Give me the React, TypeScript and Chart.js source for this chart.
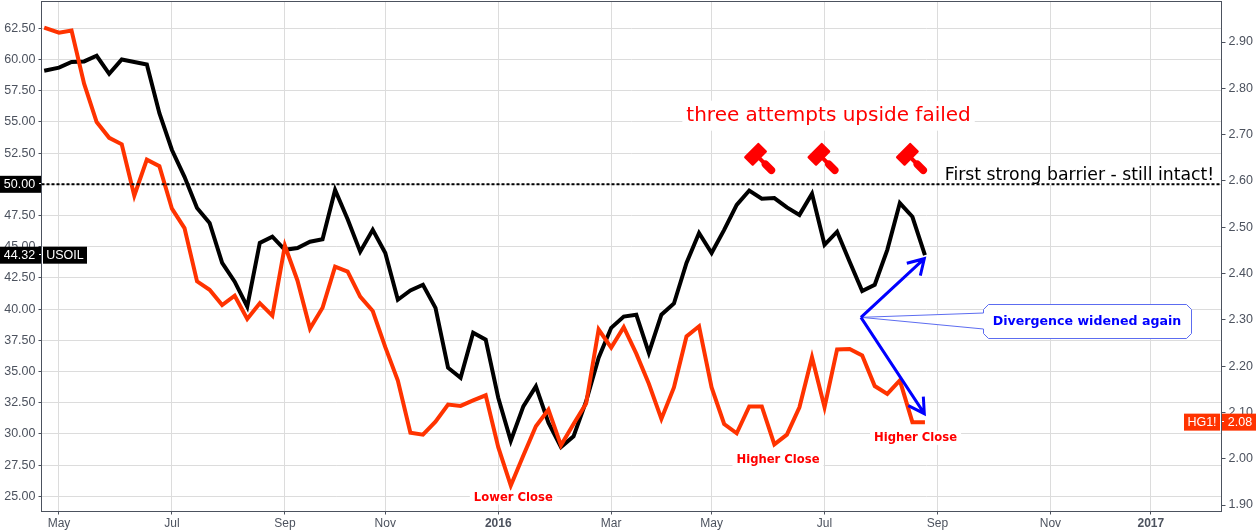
import React, { useEffect, useRef } from "react";
import { Chart, registerables } from "chart.js";

Chart.register(...registerables);

const firstWeek = -1;
const firstPointWeek = -1.18;
const usoilValues = [
  59.1, 59.35, 59.8, 59.85, 60.3, 58.85, 60.0, 59.8, 59.6, 55.7, 52.75, 50.6, 48.1, 46.9, 43.7, 42.2, 40.2,
  45.3, 45.8, 44.75, 44.9, 45.4, 45.6, 49.55, 47.2, 44.6, 46.35, 44.5, 40.75, 41.5, 41.95, 40.1, 35.3, 34.5,
  38.1, 37.55, 32.9, 29.45, 32.2, 33.8, 30.9, 28.95, 29.8, 32.6, 36.1, 38.5, 39.4, 39.55, 36.5, 39.55, 40.45,
  43.7, 46.1, 44.5, 46.35, 48.35, 49.5, 48.85, 48.9, 48.15, 47.55, 49.25, 45.15, 46.2, 43.8, 41.45, 41.95,
  44.75, 48.5, 47.4, 44.32,
];
const copperValues = [
  2.931, 2.92, 2.925, 2.81, 2.727, 2.693, 2.679, 2.568, 2.646, 2.632, 2.54, 2.498, 2.383, 2.365, 2.332, 2.352,
  2.302, 2.336, 2.309, 2.46, 2.385, 2.281, 2.326, 2.415, 2.404, 2.35, 2.319, 2.241, 2.169, 2.056, 2.052, 2.08,
  2.117, 2.114, 2.126, 2.137, 2.025, 1.942, 2.007, 2.07, 2.106, 2.029, 2.075, 2.119, 2.279, 2.24, 2.284, 2.227,
  2.162, 2.086, 2.154, 2.264, 2.286, 2.154, 2.075, 2.055, 2.113, 2.113, 2.031, 2.052, 2.111, 2.219, 2.111, 2.236,
  2.237, 2.223, 2.157, 2.14, 2.169, 2.079, 2.079,
];
const monthWeeks = [0, 9, 18, 26, 35, 44, 52, 61, 70, 79, 87];
const monthLabels = ["May", "Jul", "Sep", "Nov", "2016", "Mar", "May", "Jul", "Sep", "Nov", "2017"];
const leftTicks = [25, 27.5, 30, 32.5, 35, 37.5, 40, 42.5, 45, 47.5, 50, 52.5, 55, 57.5, 60, 62.5];
const rightTicks = [1.9, 2.0, 2.1, 2.2, 2.3, 2.4, 2.5, 2.6, 2.7, 2.8, 2.9];
const gavelWeeks = [55.5, 60.55, 67.6];
const gavelPrice = 52.4;

const AXIS = "#4c525e";
const GRID = "#dcdcdc";
const RED = "#ff3300";
const BLUE = "#0000ff";

const UI = "'Liberation Sans', Arial, sans-serif";
const DV = "'DejaVu Sans', Verdana, sans-serif";

const weekOf = (i: number) => (i === 0 ? firstPointWeek : firstWeek + i);

function boxedText(ctx: CanvasRenderingContext2D, text: string, cx: number, cy: number, font: string, color: string, bx: number, by: number) {
  ctx.font = font;
  ctx.textAlign = "center";
  ctx.textBaseline = "middle";
  const w = ctx.measureText(text).width;
  ctx.fillStyle = "#ffffff";
  ctx.fillRect(cx - w / 2 - bx, cy - by, w + 2 * bx, by * 2);
  ctx.fillStyle = color;
  ctx.fillText(text, cx, cy);
}

function gavel(ctx: CanvasRenderingContext2D, x: number, y: number) {
  ctx.save();
  ctx.translate(x, y);
  ctx.rotate(Math.PI / 4);
  ctx.fillStyle = "#ff0000";
  ctx.strokeStyle = "#ff0000";
  ctx.beginPath();
  ctx.roundRect(-6.5, -10.5, 13, 21, 1.5);
  ctx.fill();
  ctx.fillRect(5, -2, 9, 4);
  ctx.lineCap = "round";
  ctx.lineWidth = 7.5;
  ctx.beginPath();
  ctx.moveTo(14, 0);
  ctx.lineTo(22.5, 0);
  ctx.stroke();
  ctx.restore();
}

function arrow(ctx: CanvasRenderingContext2D, x0: number, y0: number, x1: number, y1: number, bx1: number, by1: number, bx2: number, by2: number) {
  ctx.strokeStyle = BLUE;
  ctx.lineWidth = 3;
  ctx.lineCap = "butt";
  ctx.lineJoin = "miter";
  ctx.beginPath();
  ctx.moveTo(x0, y0);
  ctx.lineTo(x1, y1);
  ctx.moveTo(bx1, by1);
  ctx.lineTo(x1, y1);
  ctx.lineTo(bx2, by2);
  ctx.stroke();
}

function tag(ctx: CanvasRenderingContext2D, text: string, x0: number, x1: number, y: number, bg: string) {
  ctx.fillStyle = bg;
  ctx.fillRect(x0, y - 8.5, x1 - x0, 17);
  ctx.fillStyle = "#ffffff";
  ctx.font = `12.5px ${UI}`;
  ctx.textAlign = "center";
  ctx.textBaseline = "middle";
  ctx.fillText(text, (x0 + x1) / 2, y + 0.5);
}

const overlay = {
  id: "overlay",
  afterDraw(chart: any) {
    const { ctx, chartArea: a, scales } = chart;
    const X = (v: number) => scales.x.getPixelForValue(v);
    const Y = (v: number) => scales.y.getPixelForValue(v);
    const R = (v: number) => scales.y1.getPixelForValue(v);
    ctx.save();

    ctx.strokeStyle = AXIS;
    ctx.lineWidth = 1;
    ctx.strokeRect(a.left, a.top, a.right - a.left, a.bottom - a.top);

    // barrier label
    boxedText(ctx, "First strong barrier - still intact!", 1079.5, 176, `17.3px ${DV}`, "#000000", 4, 9);

    // resistance line
    ctx.strokeStyle = "#000000";
    ctx.lineWidth = 2;
    ctx.setLineDash([3, 2]);
    ctx.beginPath();
    ctx.moveTo(a.left, Y(50));
    ctx.lineTo(a.right, Y(50));
    ctx.stroke();
    ctx.setLineDash([]);

    boxedText(ctx, "three attempts upside failed", X(61.32), Y(55.5), `20px ${DV}`, "#ff0000", 4, 15);
    gavelWeeks.forEach((w) => gavel(ctx, X(w), Y(gavelPrice)));

    boxedText(ctx, "Lower Close", X(36.2), Y(24.9), `bold 11.6px ${DV}`, "#ff0000", 4, 7);
    boxedText(ctx, "Higher Close", X(57.29), Y(27.87), `bold 11.6px ${DV}`, "#ff0000", 4, 7);
    boxedText(ctx, "Higher Close", X(68.25), Y(29.68), `bold 11.6px ${DV}`, "#ff0000", 4, 7);

    // callout
    const ox = X(63.9), oy = Y(39.34);
    const tx = X(68.95);
    const l = 983.5, r = 1191.5, t = 304.5, b = 338.5, c = 5;
    ctx.beginPath();
    ctx.moveTo(l + c, t);
    ctx.lineTo(r - c, t);
    ctx.lineTo(r, t + c);
    ctx.lineTo(r, b - c);
    ctx.lineTo(r - c, b);
    ctx.lineTo(l + c, b);
    ctx.lineTo(l, b - c);
    ctx.lineTo(l, 329);
    ctx.lineTo(ox, oy);
    ctx.lineTo(l, 313);
    ctx.lineTo(l, t + c);
    ctx.closePath();
    ctx.fillStyle = "#ffffff";
    ctx.fill();
    ctx.strokeStyle = "#5c6cf0";
    ctx.lineWidth = 1;
    ctx.stroke();
    ctx.fillStyle = BLUE;
    ctx.font = `bold 12.6px ${DV}`;
    ctx.textAlign = "center";
    ctx.textBaseline = "middle";
    ctx.fillText("Divergence widened again", 1087, 322);

    // arrows
    arrow(ctx, ox, oy, tx, Y(44.04), tx - 17.5, Y(44.04) + 4.5, tx - 4, Y(44.04) + 17);
    arrow(ctx, ox, oy, tx, Y(31.62), tx - 16, Y(31.62) - 8, tx - 1, Y(31.62) - 17);

    // last-value tags
    const usoil = usoilValues[usoilValues.length - 1];
    const copper = copperValues[copperValues.length - 1];
    tag(ctx, "50.00", 0, 39, Y(50), "#000000");
    tag(ctx, usoil.toFixed(2), 0, 39, Y(usoil), "#000000");
    tag(ctx, "USOIL", 43, 87, Y(usoil), "#000000");
    tag(ctx, "HG1!", 1184, 1220, R(copper), RED);
    tag(ctx, copper.toFixed(2), 1224, 1256, R(copper), RED);
    ctx.fillStyle = "#000000";
    ctx.fillRect(39, Y(50) - 8.5, 2, 17);
    ctx.fillRect(39, Y(usoil) - 8.5, 2, 17);
    ctx.fillStyle = RED;
    ctx.fillRect(1222, R(copper) - 8.5, 2, 17);
    ctx.fillStyle = "#ffffff";
    ctx.fillRect(39, Math.round(Y(50)) - 1, 2, 1);
    ctx.fillRect(39, Math.round(Y(usoil)) - 1, 2, 1);
    ctx.fillRect(1222, Math.round(R(copper)) - 1, 2, 1);
    ctx.restore();
  },
};

const noPad = (s: any) => {
  s.paddingTop = 0;
  s.paddingBottom = 0;
  s.paddingLeft = 0;
  s.paddingRight = 0;
};

export default function App() {
  const ref = useRef<HTMLCanvasElement | null>(null);
  useEffect(() => {
    if (!ref.current) return;
    const chart = new Chart(ref.current, {
      type: "line",
      plugins: [overlay],
      data: {
        datasets: [
          {
            label: "HG1!",
            yAxisID: "y1",
            data: copperValues.map((y, i) => ({ x: weekOf(i), y })),
            borderColor: RED,
            borderWidth: 4,
            pointRadius: 0,
            tension: 0,
            borderJoinStyle: "miter",
            order: 1,
          },
          {
            label: "USOIL",
            yAxisID: "y",
            data: usoilValues.map((y, i) => ({ x: weekOf(i), y })),
            borderColor: "#000000",
            borderWidth: 4,
            pointRadius: 0,
            tension: 0,
            borderJoinStyle: "miter",
            order: 2,
          },
        ],
      },
      options: {
        responsive: false,
        animation: false,
        layout: { padding: { top: 1.5, left: 0, right: 0, bottom: 0 } },
        plugins: { legend: { display: false }, tooltip: { enabled: false }, title: { display: false } },
        scales: {
          x: {
            type: "linear",
            min: -1.394,
            max: 92.63,
            afterBuildTicks: (s: any) => {
              s.ticks = monthWeeks.map((value) => ({ value }));
            },
            afterFit: (s: any) => {
              s.height = 19.5;
              noPad(s);
            },
            grid: { color: GRID, tickColor: AXIS, tickLength: 3, lineWidth: 1 },
            border: { display: false },
            ticks: {
              autoSkip: false,
              maxRotation: 0,
              padding: 2,
              color: AXIS,
              font: (c: any) => ({
                family: UI,
                size: 12,
                weight: monthLabels[c.index]?.startsWith("20") ? "bold" : "normal",
              }),
              callback: (_v: any, i: number) => monthLabels[i],
            },
          },
          y: {
            type: "linear",
            position: "left",
            min: 23.78,
            max: 64.65,
            afterBuildTicks: (s: any) => {
              s.ticks = leftTicks.map((value) => ({ value }));
            },
            afterFit: (s: any) => {
              s.width = 41.5;
              noPad(s);
            },
            grid: { color: GRID, tickColor: AXIS, tickLength: 3, lineWidth: 1 },
            border: { display: false },
            ticks: {
              autoSkip: false,
              padding: 3,
              color: AXIS,
              font: { family: UI, size: 12.5 },
              callback: (v: any) => Number(v).toFixed(2),
            },
          },
          y1: {
            type: "linear",
            position: "right",
            min: 1.886,
            max: 2.9875,
            afterBuildTicks: (s: any) => {
              s.ticks = rightTicks.map((value) => ({ value }));
            },
            afterFit: (s: any) => {
              s.width = 34.5;
              noPad(s);
            },
            grid: { drawOnChartArea: false, tickColor: AXIS, tickLength: 4, lineWidth: 1 },
            border: { display: false },
            ticks: {
              autoSkip: false,
              padding: 3,
              color: AXIS,
              font: { family: UI, size: 12.5 },
              callback: (v: any) => Number(v).toFixed(2),
            },
          },
        },
      },
    } as any);
    return () => chart.destroy();
  }, []);
  return (
    <div style={{ position: "absolute", left: 0, top: 0, width: 1256, height: 531, background: "#fff" }}>
      <canvas ref={ref} width={1256} height={531} style={{ display: "block" }} />
    </div>
  );
}
